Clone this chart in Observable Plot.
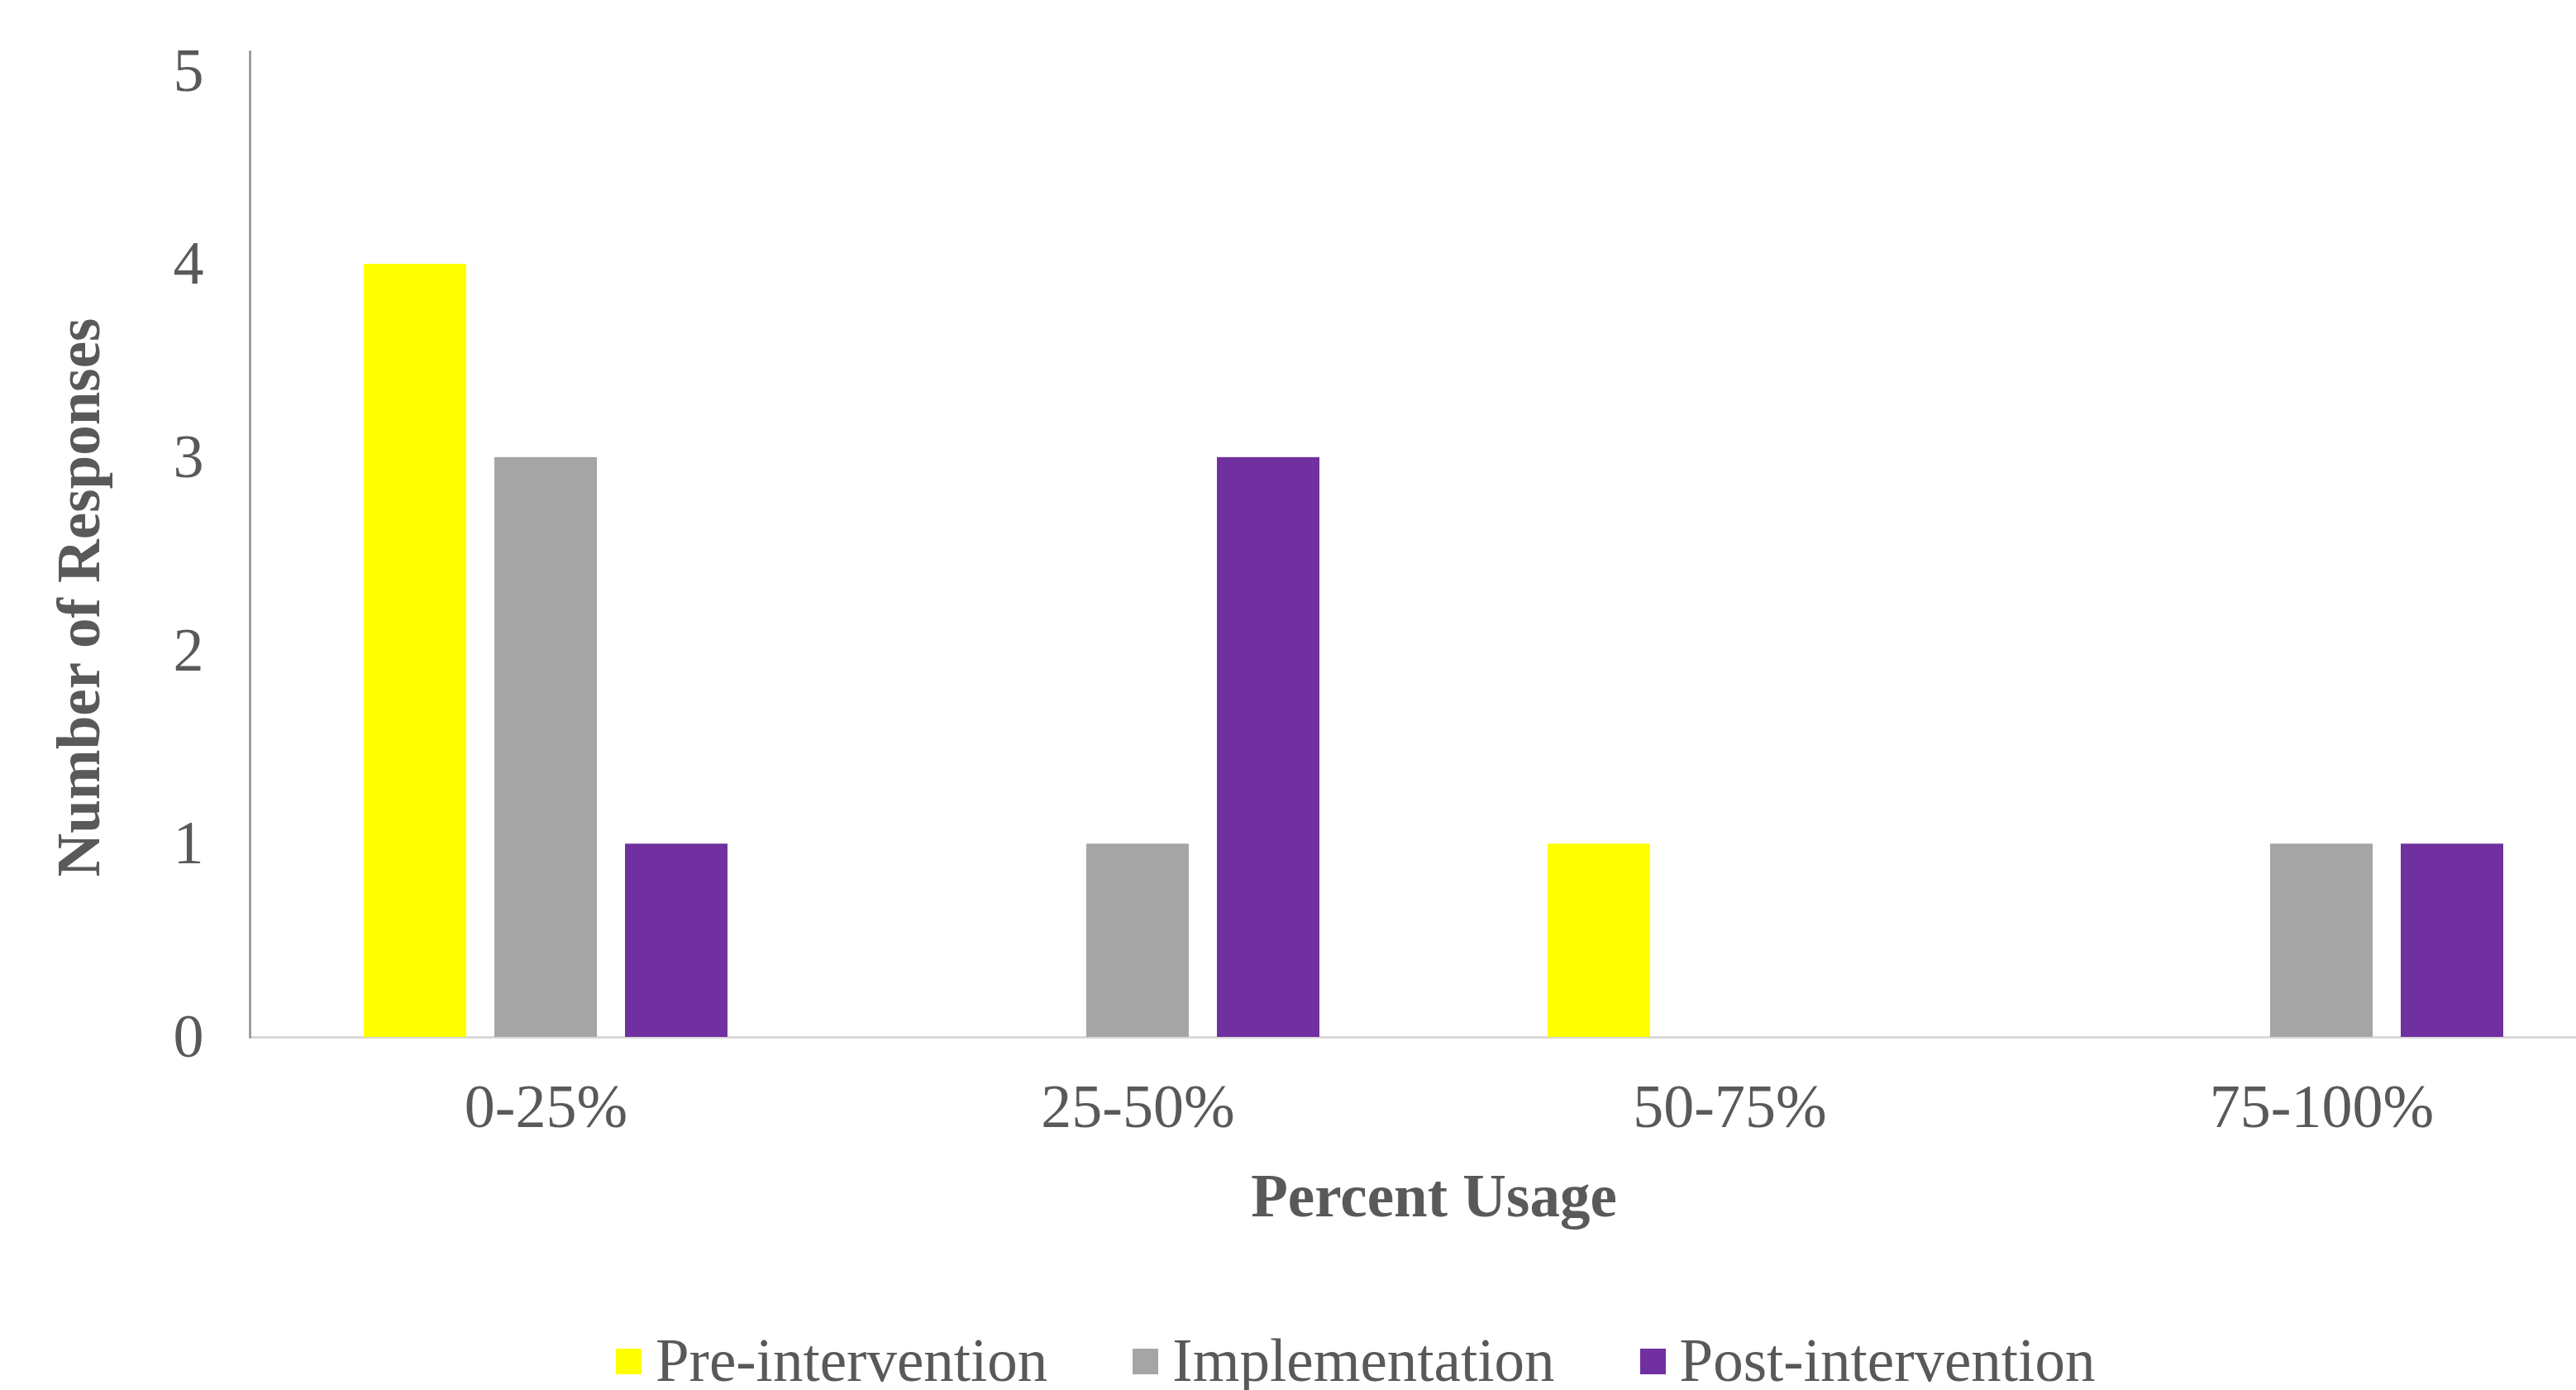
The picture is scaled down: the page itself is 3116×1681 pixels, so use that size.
<!DOCTYPE html>
<html>
<head>
<meta charset="utf-8">
<script src="https://cdn.jsdelivr.net/npm/d3@7"></script>
<script src="https://cdn.jsdelivr.net/npm/@observablehq/plot@0.6"></script>
<style>
  html, body { margin: 0; padding: 0; background: #fff; overflow: hidden; width: 3116px; height: 1681px; position: relative; }
  #chart svg { display: block; overflow: hidden; }
  #legend { position: absolute; left: 745px; top: 1606px; height: 80px; display: flex; align-items: center;
            font-family: "Liberation Serif", "Times New Roman", serif; font-size: 73px; color: #595959; }
  #legend .item { display: flex; align-items: center; margin-right: 103px; white-space: nowrap; }
  #legend .sw { width: 31px; height: 31px; margin-right: 17px; }
</style>
</head>
<body>
<div id="chart"></div>
<div id="legend"></div>
<script>
const categories = ["0-25%", "25-50%", "50-75%", "75-100%"];
const seriesNames = ["Pre-intervention", "Implementation", "Post-intervention"];
const preIntervention = [4, 0, 1, 0];
const implementation = [3, 1, 0, 1];
const postIntervention = [1, 3, 0, 1];
const seriesColors = ["#FFFF00", "#A5A5A5", "#7030A0"];
const yTicks = [0, 1, 2, 3, 4, 5];
const yTitle = "Number of Responses";
const xTitle = "Percent Usage";

const seriesValues = [preIntervention, implementation, postIntervention];
const data = [];
categories.forEach((c, i) => {
  seriesNames.forEach((s, j) => {
    data.push({category: c, series: s, value: seriesValues[j][i]});
  });
});

const font = '"Liberation Serif", "Times New Roman", serif';

const chart = Plot.plot({
  width: 3116,
  height: 1570,
  marginLeft: 300,
  marginRight: -51,
  marginTop: 62,
  marginBottom: 316,
  style: {fontFamily: font, fontSize: "74px", color: "#595959", background: "#fff"},
  fx: {domain: categories, padding: 0},
  x: {domain: seriesNames, paddingInner: 0.2138, paddingOuter: 0.861, axis: null},
  y: {domain: [0, 5.1]},
  color: {domain: seriesNames, range: seriesColors},
  marks: [
    Plot.ruleY([0], {stroke: "#D9D9D9", strokeWidth: 3}),
    Plot.barY(data, {fx: "category", x: "series", y: "value", fill: "series"}),
    Plot.frame({anchor: "left", stroke: "#8C8C8C", strokeWidth: 2.5, facetAnchor: "left"}),
    Plot.axisY({ticks: yTicks, tickFormat: d => String(d), tickSize: 0, tickPadding: 56, fontSize: 74, label: null, color: "#595959"}),
    Plot.text([yTitle], {text: d => d, facet: "super", frameAnchor: "left", rotate: -90,
                         textAnchor: "middle", lineAnchor: "top", dx: -234, dy: 64,
                         fontSize: 73, fontWeight: "bold", fill: "#595959"}),
    Plot.axisFx({anchor: "bottom", tickSize: 0, tickPadding: 56, fontSize: 74, label: null, color: "#595959"}),
    Plot.axisFx({anchor: "bottom", ticks: [], label: xTitle, labelAnchor: "center", labelArrow: "none",
                 labelOffset: 216, fontSize: 73, fontWeight: "bold", color: "#595959"})
  ]
});
document.getElementById("chart").appendChild(chart);

const legend = document.getElementById("legend");
seriesNames.forEach((s, j) => {
  const item = document.createElement("div");
  item.className = "item";
  const sw = document.createElement("span");
  sw.className = "sw";
  sw.style.background = seriesColors[j];
  const t = document.createElement("span");
  t.textContent = s;
  item.appendChild(sw);
  item.appendChild(t);
  legend.appendChild(item);
});
</script>
</body>
</html>
